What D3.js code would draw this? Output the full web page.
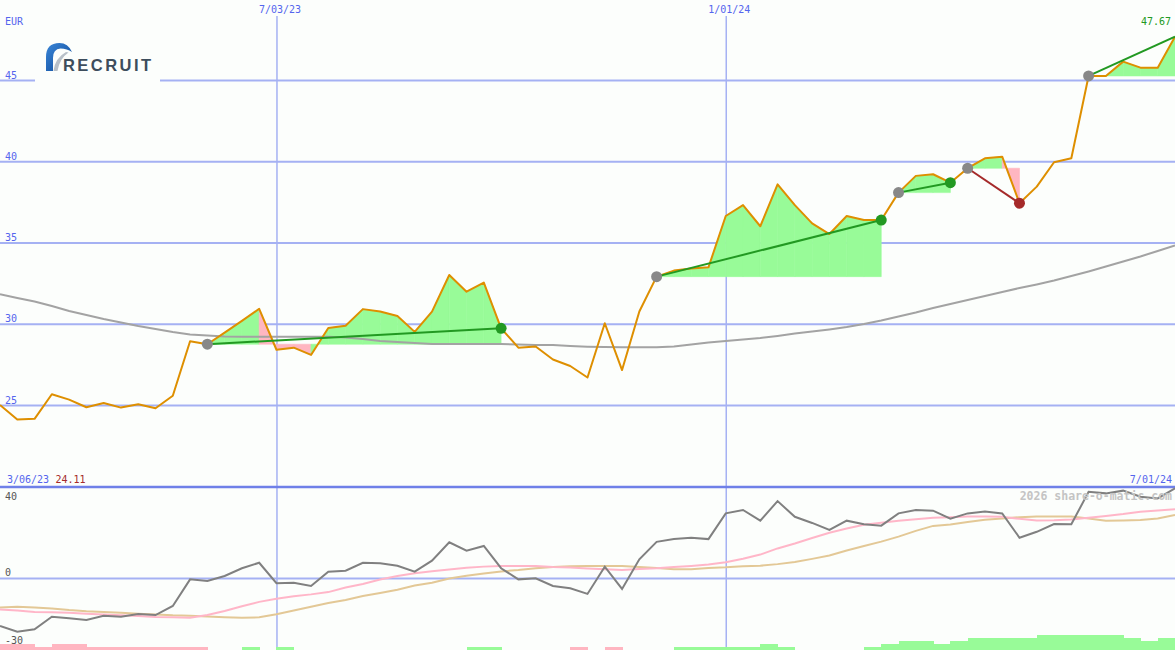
<!DOCTYPE html>
<html><head><meta charset="utf-8">
<script src="https://cdn.jsdelivr.net/npm/d3@7"></script>
<style>html,body{margin:0;padding:0;background:#fcfefc;} svg{display:block;}</style>
</head><body><svg id="c" width="1175" height="650"></svg>
<script>
// ---------- data ----------
const startDate = new Date(2023, 2, 13);   // first weekly close shown
const price = [25.0,24.11,24.15,25.66,25.33,24.86,25.12,24.84,25.04,24.8,25.57,28.92,28.74,29.45,30.18,30.92,28.4,28.53,28.08,29.74,
  29.88,30.9,30.75,30.48,29.5,30.75,33.0,31.97,32.53,29.72,28.53,28.6,27.8,27.4,26.69,30.03,27.15,30.75,32.9,33.27,
  33.4,33.47,36.63,37.3,36.0,38.58,37.3,36.18,35.52,36.63,36.38,36.38,38.07,39.1,39.2,38.68,39.57,40.18,40.28,37.42,
  38.44,39.94,40.18,45.25,45.25,46.13,45.76,45.76,47.67];
const movingAvg = [31.81,31.58,31.37,31.09,30.78,30.54,30.29,30.08,29.86,29.68,29.49,29.34,29.28,29.22,29.2,29.2,29.2,29.2,29.2,29.2,
  29.15,29.06,28.94,28.88,28.82,28.75,28.75,28.75,28.75,28.75,28.72,28.69,28.69,28.63,28.59,28.57,28.55,28.55,28.55,28.6,
  28.72,28.85,28.94,29.03,29.12,29.25,29.4,29.52,29.65,29.8,29.98,30.2,30.45,30.69,30.97,31.22,31.46,31.71,31.95,32.2,
  32.42,32.66,32.94,33.22,33.52,33.83,34.14,34.48,34.82];
const oscGrey = [-21.1,-23.6,-22.5,-17.0,-17.7,-18.5,-16.6,-17.0,-15.8,-16.3,-12.3,-0.6,-1.3,0.9,4.3,6.7,-2.3,-2.1,-3.5,2.8,
  3.2,6.7,6.5,5.4,2.8,7.6,15.7,12.0,14.1,4.3,-0.6,-0.1,-3.5,-4.5,-7.0,5.0,-4.8,8.2,15.9,17.1,
  17.7,17.1,28.4,29.9,25.2,33.8,26.9,24.2,21.1,25.2,23.6,23.0,28.4,29.9,29.6,26.1,28.4,29.2,28.4,17.7,
  20.3,23.7,23.6,37.9,37.2,38.4,35.7,35.0,39.4];
const oscPink = [-13.8,-14.3,-14.9,-15.1,-15.3,-15.7,-16.0,-16.4,-16.7,-17.1,-17.3,-17.5,-16.3,-14.5,-12.4,-10.5,-9.1,-8.0,-7.2,-6.2,
  -4.2,-2.6,-0.7,0.9,2.1,3.0,3.7,4.5,5.0,5.3,5.3,5.3,4.8,4.6,4.2,3.8,3.5,4.0,4.3,4.8,
  5.3,5.9,6.9,8.5,10.3,13.0,15.2,17.6,19.9,21.8,23.4,24.3,25.2,25.8,26.5,26.7,27.0,27.0,26.9,26.0,
  25.3,25.4,25.7,26.5,27.3,28.1,29.1,29.7,30.2];
const oscTan = [-13.0,-12.6,-13.0,-13.4,-14.1,-14.6,-14.9,-15.3,-15.7,-16.0,-16.4,-16.6,-16.9,-17.2,-17.5,-17.3,-15.9,-14.3,-12.6,-11.0,
  -9.7,-7.9,-6.6,-5.2,-3.3,-2.1,-0.2,1.0,2.0,2.9,3.5,4.3,4.8,5.2,5.3,5.3,5.3,4.8,4.4,3.9,
  3.9,4.4,4.7,5.2,5.4,6.1,7.0,8.4,9.9,12.1,14.1,16.0,18.2,20.7,22.9,23.5,24.6,25.6,26.2,26.7,
  27.0,27.0,27.0,26.2,25.2,25.3,25.5,26.2,27.7];
const strengthBars = [-2,-2,-1,-2,-2,-1,-1,-1,-1,-1,-1,-1,0,0,1,0,1,0,0,0,
  0,0,0,0,0,0,0,1,1,0,0,0,0,-1,0,-1,0,0,0,1,
  1,1,1,1,2,1,0,0,0,0,1,2,3,3,2,3,4,4,4,4,
  5,5,5,5,5,4,3,4];
const signalStart = [12,38,52,56,63];
const signalEnd   = [29,51,55,59,68];
const signalUp    = [true,true,true,false,true];
const signalOpen  = [false,false,false,false,true];
const priceTicks = [25,30,35,40,45];
const oscTickLabels = [40,0,-30];
const oscGridTicks = [0];
const dateTicks = [new Date(2023,6,3), new Date(2024,0,1)];
const currencyLabel = "EUR";
const firstDateLabel = "3/06/23";
const lowLabel = "24.11";
const lastDateLabel = "7/01/24";
const lastPriceLabel = "47.67";
const watermark = "2026 share-o-matic.com";
const logoText = "RECRUIT";

// ---------- setup ----------
const W = 1175, H = 650;
const svg = d3.select("#c");
const dates = price.map((_, i) => d3.timeWeek.offset(startDate, i));
const x = d3.scaleTime().domain([dates[0], dates[dates.length - 1]]).range([0, W]);
const y = d3.scaleLinear().domain([25, 45]).range([405, 80]);
const yo = d3.scaleLinear().domain([-30, 40]).range([646.25, 487]);
const yb = d3.scaleLinear().domain([0, 5]).range([650, 635]);

const F = "'DejaVu Sans Mono', monospace";
const BLUE = "#5465ee", GRID = "#a5b1f3";

svg.append("rect").attr("width", W).attr("height", H).attr("fill", "#fcfefc");

// horizontal price gridlines
const gy = svg.append("g").call(d3.axisLeft(y).tickValues(priceTicks).tickSize(-W).tickFormat(d3.format("d")));
gy.select(".domain").remove();
gy.selectAll(".tick line").attr("stroke", GRID).attr("stroke-width", 2);
gy.selectAll(".tick text").attr("x", 5).attr("dy", "-2").attr("y", 0).attr("text-anchor", "start")
  .attr("fill", BLUE).attr("font-family", F).attr("font-size", 10).style("dominant-baseline", "auto");

// oscillator zero line
const go = svg.append("g").call(d3.axisLeft(yo).tickValues(oscGridTicks).tickSize(-W).tickFormat(""));
go.select(".domain").remove();
go.selectAll(".tick line").attr("stroke", GRID).attr("stroke-width", 2);

// vertical date gridlines
const gx = svg.append("g").attr("transform", "translate(0,16)")
  .call(d3.axisTop(x).tickValues(dateTicks).tickSize(-(H - 16)).tickFormat(d3.timeFormat("%-m/%d/%y")));
gx.select(".domain").remove();
gx.selectAll(".tick line").attr("stroke", GRID).attr("stroke-width", 1.5);
gx.selectAll(".tick text").attr("y", -3.5).attr("dy", 0).attr("x", 3).attr("text-anchor", "middle")
  .attr("fill", BLUE).attr("font-family", F).attr("font-size", 10);

// separator
svg.append("line").attr("x1", 0).attr("x2", W).attr("y1", yo(40)).attr("y2", yo(40))
  .attr("stroke", "#6f80e8").attr("stroke-width", 2.5);

// logo
const logo = svg.append("g");
logo.append("rect").attr("x", 35).attr("y", 30).attr("width", 125).attr("height", 58).attr("fill", "#fcfefc");
const grad = svg.append("defs").append("linearGradient").attr("id", "lg").attr("x1", 0).attr("x2", 1).attr("y1", 0).attr("y2", 1);
grad.append("stop").attr("offset", 0).attr("stop-color", "#3a86d8");
grad.append("stop").attr("offset", 1).attr("stop-color", "#0d4896");
logo.append("path").attr("d", "M46,71 L46,57 Q46,43 59.5,43 Q68,43 72,52 Q67,48.5 60.5,48.5 Q53,49 53,58 L53,71 Z").attr("fill", "url(#lg)");
logo.append("path").attr("d", "M53.5,71 Q55,58 66,52 L68.5,52.5 Q59.5,58.5 57.5,71 Z").attr("fill", "#b8c0c8");
logo.append("text").attr("x", 63).attr("y", 70.7).attr("font-family", "'Liberation Sans', Arial, sans-serif")
  .attr("font-weight", "bold").attr("font-size", 16.5).attr("fill", "#3d4d5c").attr("textLength", 88)
  .attr("lengthAdjust", "spacing").text(logoText);

// signal fills
const GREEN_FILL = "#98fb98", PINK_FILL = "#ffb6c1";
signalStart.forEach((s, k) => {
  const e = signalEnd[k], base = price[s];
  for (let i = s; i < e; i++) {
    const pts = [[x(dates[i]), y(price[i])], [x(dates[i + 1]), y(price[i + 1])],
                 [x(dates[i + 1]), y(base)], [x(dates[i]), y(base)]];
    const c = price[i + 1] >= base ? GREEN_FILL : PINK_FILL;
    svg.append("path").attr("d", "M" + pts.join("L") + "Z")
      .attr("fill", c).attr("stroke", c).attr("stroke-width", 0.6);
  }
});

// moving average
const line = (arr, ys) => d3.line().x((d, i) => x(dates[i])).y(d => ys(d))(arr);
svg.append("path").attr("d", line(movingAvg, y)).attr("fill", "none").attr("stroke", "#a3a3a3").attr("stroke-width", 2);

// price
svg.append("path").attr("d", line(price, y)).attr("fill", "none").attr("stroke", "#de8f00").attr("stroke-width", 2).attr("stroke-linejoin", "round");

// trend lines and dots
signalStart.forEach((s, k) => {
  const e = signalEnd[k];
  const col = signalUp[k] ? "#229922" : "#a52a2a";
  svg.append("line").attr("x1", x(dates[s])).attr("y1", y(price[s])).attr("x2", x(dates[e])).attr("y2", y(price[e]))
    .attr("stroke", col).attr("stroke-width", 2);
  svg.append("circle").attr("cx", x(dates[s])).attr("cy", y(price[s])).attr("r", 5.5).attr("fill", "#888888");
  if (!signalOpen[k]) svg.append("circle").attr("cx", x(dates[e])).attr("cy", y(price[e])).attr("r", 5.5).attr("fill", col);
});

// oscillator lines
svg.append("path").attr("d", line(oscTan, yo)).attr("fill", "none").attr("stroke", "#e3c896").attr("stroke-width", 2);
svg.append("path").attr("d", line(oscPink, yo)).attr("fill", "none").attr("stroke", "#ffb6c8").attr("stroke-width", 2);
svg.append("path").attr("d", line(oscGrey, yo)).attr("fill", "none").attr("stroke", "#808080").attr("stroke-width", 2);

// strength bars
svg.append("g").attr("shape-rendering", "crispEdges").selectAll("rect").data(strengthBars).join("rect")
  .attr("x", (d, i) => x(dates[i])).attr("width", (d, i) => x(dates[i + 1]) - x(dates[i]) + 0.5)
  .attr("y", d => yb(Math.abs(d))).attr("height", d => yb(0) - yb(Math.abs(d)))
  .attr("fill", d => d > 0 ? GREEN_FILL : PINK_FILL);

// texts
const txt = (t, xx, yy, col, anchor, size, weight) => svg.append("text").attr("x", xx).attr("y", yy)
  .attr("fill", col).attr("text-anchor", anchor || "start").attr("font-family", F)
  .attr("font-size", size || 10).attr("font-weight", weight || "normal").text(t);
txt(currencyLabel, 5, 25, BLUE);
txt(lastPriceLabel, 1171, 25, "#229922", "end");
txt(firstDateLabel, 7, 483, BLUE);
txt(lowLabel, 55.5, 483, "#a52a2a");
txt(lastDateLabel, 1172, 483, BLUE, "end");
txt(watermark, 1172, 500, "#c4c4c4", "end", 11.5, "bold");
oscTickLabels.forEach(v => {
  const yy = v === 40 ? 499.5 : yo(v) - 2;
  txt(String(v), 5, yy, "#555555");
});
</script></body></html>
